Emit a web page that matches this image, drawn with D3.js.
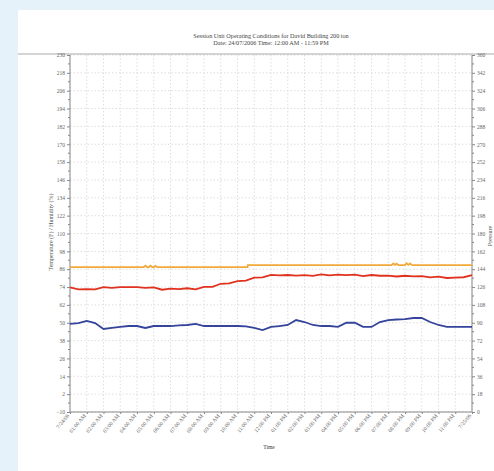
<!DOCTYPE html>
<html><head><meta charset="utf-8">
<script src="https://cdn.jsdelivr.net/npm/d3@7"></script>
<style>
html,body{margin:0;padding:0;background:#e5f2fa;}
svg{display:block;}
.ax text{font-family:"Liberation Serif",serif;font-size:5.5px;fill:#666;}
.ax path,.ax line{stroke:#888;stroke-width:1;}
</style></head><body>
<svg id="c" width="494" height="471"></svg>
<script>
const hours = d3.range(0, 24.01, 0.5);
const blueValues = [49.2,49.8,51.2,49.8,45.8,46.5,47.2,47.8,47.8,46.5,47.8,47.8,47.8,48.2,48.5,49.2,47.8,47.8,47.8,47.8,47.8,47.5,46.5,45.1,47.2,47.8,48.5,51.8,50.5,48.5,47.8,47.8,47.2,50.0,50.0,47.2,47.2,50.5,51.8,52.2,52.5,53.2,53.2,50.5,48.5,47.2,47.2,47.2,47.2];
const redValues = [73.4,73.0,72.0,72.7,73.4,74.0,73.7,74.4,73.4,73.7,73.4,72.7,72.7,73.0,72.7,72.7,73.7,74.7,75.7,76.7,77.7,78.7,79.8,80.8,81.8,82.1,81.8,82.1,81.8,81.8,82.1,82.1,82.1,82.3,82.1,81.8,81.8,81.8,81.4,81.4,81.4,81.4,81.1,80.8,80.8,80.4,80.1,80.8,81.8];
const redJitter = [0.4,-0.5,0.6,-0.3,0.5,-0.6,0.3,-0.4,0.6,-0.2,0.4,-0.5,0.3,-0.4,0.5,-0.3,0.4,-0.6,0.5,-0.2,0.3,-0.4,0.5,-0.3,0.4,-0.2,0.3,-0.4,0.2,-0.3,0.4,-0.2,0.3,-0.3,0.2,-0.4,0.3,-0.2,0.3,-0.3,0.2,-0.2,0.3,-0.3,0.2,-0.3,0.3,-0.2,0.2];
const orangeTimes  = [0,4.4,4.5,4.6,4.7,4.8,4.9,5.0,5.1,5.2,10.6,10.62,19.2,19.3,19.4,19.5,19.6,19.8,20.0,20.1,20.2,20.3,20.4,20.5,24];
const orangeValues = [146,146,147.6,146.2,146,147.6,146.2,146,147.4,146,146,148.2,148.2,149.8,148.4,149.6,148.2,148.2,148.2,150,148.4,149.8,148.4,148.2,148.2];
const leftTicks = d3.range(-10, 231, 12);
const rightTicks = d3.range(0, 361, 18);
const xTickLabels = ["7/24/06","01:00 AM","02:00 AM","03:00 AM","04:00 AM","05:00 AM","06:00 AM","07:00 AM","08:00 AM","09:00 AM","10:00 AM","11:00 AM","12:00 PM","01:00 PM","02:00 PM","03:00 PM","04:00 PM","05:00 PM","06:00 PM","07:00 PM","08:00 PM","09:00 PM","10:00 PM","11:00 PM","7/25/06"];

const svg = d3.select("#c");
svg.append("rect").attr("x",18).attr("y",10).attr("width",476).attr("height",461).attr("fill","#fff");

const L=70,R=472,T=55,B=412;
const x = d3.scaleLinear().domain([0,24]).range([L,R]);
const yL = d3.scaleLinear().domain([-10,230]).range([B,T]);
const yR = d3.scaleLinear().domain([0,360]).range([B,T]);

// grid
const g = svg.append("g");
g.selectAll("line.h").data(leftTicks).join("line")
 .attr("x1",L).attr("x2",R).attr("y1",d=>yL(d)).attr("y2",d=>yL(d))
 .attr("stroke","#d6d6d6").attr("stroke-width",0.8).attr("stroke-dasharray","1.5,2");
g.selectAll("line.v").data(d3.range(0,25)).join("line")
 .attr("y1",T).attr("y2",B).attr("x1",d=>x(d)).attr("x2",d=>x(d))
 .attr("stroke","#d6d6d6").attr("stroke-width",0.8).attr("stroke-dasharray","1.5,2");

// top border + title
svg.append("line").attr("x1",18).attr("x2",494).attr("y1",T-1).attr("y2",T-1).attr("stroke","#aaa").attr("stroke-width",1);
svg.append("text").attr("x",271).attr("y",38).attr("text-anchor","middle")
 .style("font-family","Liberation Serif,serif").style("font-size","6.2px").style("fill","#444")
 .text("Session Unit Operating Conditions for David Building 200 ton");
svg.append("text").attr("x",271).attr("y",44.5).attr("text-anchor","middle")
 .style("font-family","Liberation Serif,serif").style("font-size","6.2px").style("fill","#444")
 .text("Date: 24/07/2006   Time: 12:00 AM - 11:59 PM");

// axes
const axL = svg.append("g").attr("class","ax").attr("transform",`translate(${L},0)`)
 .call(d3.axisLeft(yL).tickValues(leftTicks).tickSize(3).tickPadding(2));
axL.append("g").selectAll("line").data(d3.range(-4,230,12)).join("line")
 .attr("x1",-2).attr("x2",0).attr("y1",d=>yL(d)).attr("y2",d=>yL(d));
const axR = svg.append("g").attr("class","ax").attr("transform",`translate(${R},0)`)
 .call(d3.axisRight(yR).tickValues(rightTicks).tickSize(3).tickPadding(2));
axR.append("g").selectAll("line").data(d3.range(9,360,18)).join("line")
 .attr("x1",0).attr("x2",2).attr("y1",d=>yR(d)).attr("y2",d=>yR(d));
const axB = svg.append("g").attr("class","ax").attr("transform",`translate(0,${B})`)
 .call(d3.axisBottom(x).tickValues(d3.range(0,25)).tickFormat(d=>xTickLabels[d]).tickSize(2));
axB.selectAll("text").attr("text-anchor","end").attr("dy",0).attr("dx",0)
 .attr("transform","translate(-1,4) rotate(-50)").attr("y",0).attr("x",0);
axL.select(".domain").attr("d",`M0,${B}V${T}`);
axR.select(".domain").attr("d",`M0,${B}V${T}`);
axB.select(".domain").attr("d",`M${L},0H${R}`);

// axis titles
svg.append("text").attr("transform","translate(53,232) rotate(-90)").attr("text-anchor","middle")
 .style("font-family","Liberation Serif,serif").style("font-size","6px").style("fill","#555")
 .text("Temperature (F) / Humidity (%)");
svg.append("text").attr("transform","translate(492,236) rotate(-90)").attr("text-anchor","middle")
 .style("font-family","Liberation Serif,serif").style("font-size","6px").style("fill","#555")
 .text("Pressure");
svg.append("text").attr("x",269).attr("y",449).attr("text-anchor","middle")
 .style("font-family","Liberation Serif,serif").style("font-size","5.5px").style("fill","#333")
 .text("Time");

// lines
const lnL = d3.line().x(d=>x(d[0])).y(d=>yL(d[1]));
const lnR = d3.line().x(d=>x(d[0])).y(d=>yR(d[1]));
svg.append("path").datum(orangeTimes.map((t,i)=>[t,orangeValues[i]]))
 .attr("d",lnR).attr("fill","none").attr("stroke","#f2a93b").attr("stroke-width",1.8);
svg.append("path").datum(hours.map((t,i)=>[t,redValues[i]+redJitter[i]]))
 .attr("d",lnL).attr("fill","none").attr("stroke","#e0321f").attr("stroke-width",1.8);
svg.append("path").datum(hours.map((t,i)=>[t,blueValues[i]]))
 .attr("d",lnL).attr("fill","none").attr("stroke","#34439b").attr("stroke-width",1.8);
</script>
</body></html>
